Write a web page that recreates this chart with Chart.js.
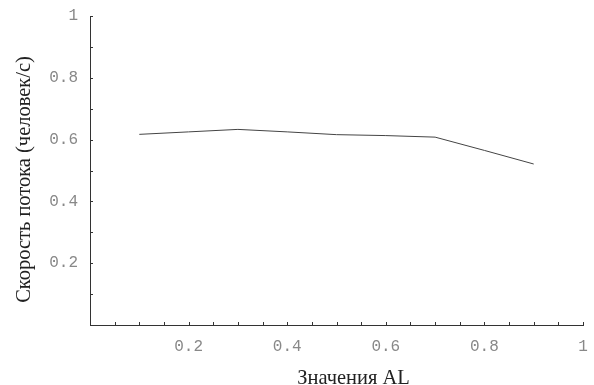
<!DOCTYPE html>
<html>
<head>
<meta charset="utf-8">
<script src="https://cdn.jsdelivr.net/npm/chart.js@4/dist/chart.umd.min.js"></script>
<style>
  html, body { margin: 0; padding: 0; background: #fff; }
  #wrap { width: 594px; height: 385px; }
</style>
</head>
<body>
<div id="wrap"><canvas id="chart" width="594" height="385"></canvas></div>
<script>
// values
const alValues = [0.1, 0.2, 0.3, 0.4, 0.5, 0.6, 0.7, 0.8, 0.9];
const flowRates = [0.617, 0.625, 0.633, 0.625, 0.616, 0.613, 0.608, 0.565, 0.521];

const xTitle = 'Значения AL';
const yTitle = 'Скорость потока (человек/с)';

const tickFont = { family: '"Liberation Mono", "DejaVu Sans Mono", monospace', size: 16 };

function fmt(v) {
  const r = Math.round(v * 10) / 10;
  return r === 1 ? '1' : r.toFixed(1);
}

// small tick marks drawn inside the axes + slightly condensed serif axis titles
const axisDecor = {
  id: 'axisDecor',
  afterDraw(chart) {
    const ctx = chart.ctx;
    const xs = chart.scales.x, ys = chart.scales.y;
    const area = chart.chartArea;
    ctx.save();
    ctx.strokeStyle = '#333';
    ctx.lineWidth = 1;
    ctx.beginPath();
    xs.ticks.forEach(t => {
      const px = Math.round(xs.getPixelForValue(t.value)) + 0.5;
      ctx.moveTo(px, ys.bottom);
      ctx.lineTo(px, ys.bottom - 3);
    });
    ys.ticks.forEach(t => {
      const py = Math.round(ys.getPixelForValue(t.value)) + 0.5;
      ctx.moveTo(xs.left, py);
      ctx.lineTo(xs.left + 3, py);
    });
    ctx.stroke();

    ctx.fillStyle = '#222';
    ctx.font = '22px "Liberation Serif", "DejaVu Serif", serif';
    ctx.textAlign = 'center';
    ctx.textBaseline = 'middle';

    ctx.save();
    ctx.translate((area.left + area.right) / 2 + 17, area.bottom + 53);
    ctx.scale(0.93, 1);
    ctx.fillText(xTitle, 0, 0);
    ctx.restore();

    ctx.save();
    ctx.translate(24, (area.top + area.bottom) / 2 + 9);
    ctx.rotate(-Math.PI / 2);
    ctx.scale(0.93, 1);
    ctx.fillText(yTitle, 0, 0);
    ctx.restore();

    ctx.restore();
  }
};

new Chart(document.getElementById('chart').getContext('2d'), {
  type: 'line',
  data: {
    datasets: [{
      data: alValues.map((x, i) => ({ x: x, y: flowRates[i] })),
      borderColor: '#444',
      borderWidth: 1,
      pointRadius: 0,
      tension: 0,
      fill: false
    }]
  },
  options: {
    responsive: false,
    animation: false,
    layout: { padding: { top: 16, right: 11, left: 0, bottom: 0 } },
    plugins: { legend: { display: false }, tooltip: { enabled: false } },
    scales: {
      x: {
        type: 'linear',
        min: 0,
        max: 1,
        afterFit: s => { s.height = 60; s.paddingLeft = 0; s.paddingRight = 0; },
        grid: { display: true, drawOnChartArea: false, drawTicks: false },
        border: { display: true, color: '#333', width: 1 },
        ticks: {
          stepSize: 0.05,
          autoSkip: false,
          maxRotation: 0,
          padding: 12,
          color: '#888',
          font: tickFont,
          callback: v => (Math.round(v * 100) % 20 === 0 && v > 0) ? fmt(v) : ''
        }
      },
      y: {
        type: 'linear',
        min: 0,
        max: 1,
        afterFit: s => { s.width = 90; s.paddingTop = 0; s.paddingBottom = 0; },
        grid: { display: true, drawOnChartArea: false, drawTicks: false },
        border: { display: true, color: '#333', width: 1 },
        ticks: {
          stepSize: 0.1,
          autoSkip: false,
          padding: 12,
          color: '#888',
          font: tickFont,
          callback: v => (Math.round(v * 10) % 2 === 0 && v > 0) ? fmt(v) : ''
        }
      }
    }
  },
  plugins: [axisDecor]
});
</script>
</body>
</html>
